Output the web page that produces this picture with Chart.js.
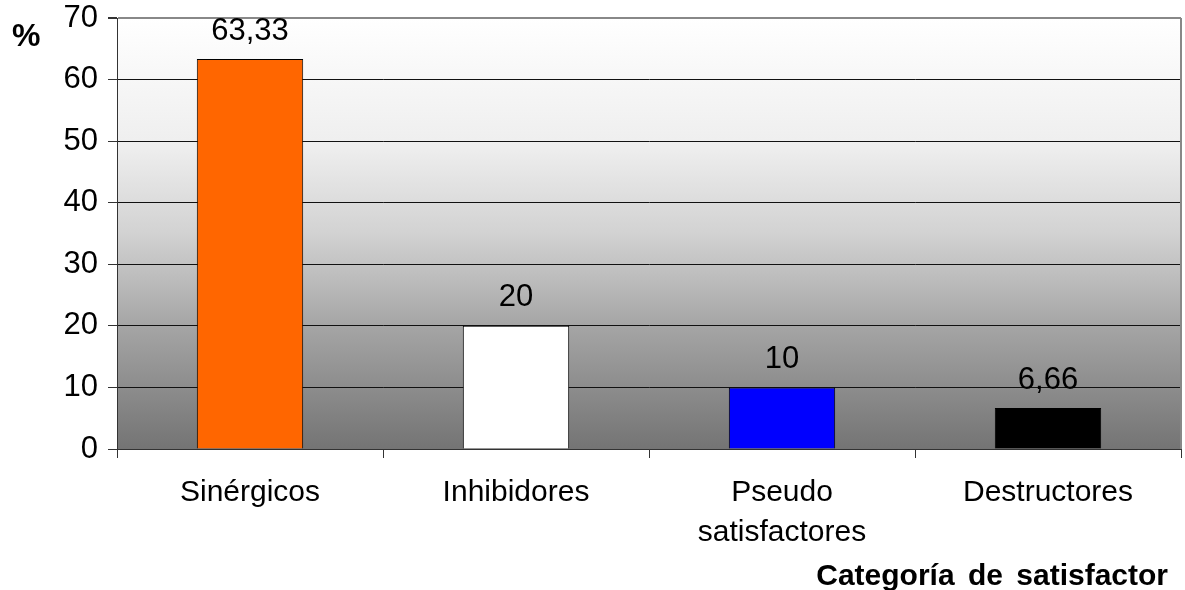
<!DOCTYPE html>
<html>
<head>
<meta charset="utf-8">
<title>Categoría de satisfactor</title>
<script src="https://cdn.jsdelivr.net/npm/chart.js@4"></script>
<style>
  html, body { margin: 0; padding: 0; background: #ffffff; }
  canvas { display: block; }
</style>
</head>
<body>
<canvas id="grafico" width="1185" height="590"></canvas>
<script>
const categorias = ['Sinérgicos', 'Inhibidores', ['Pseudo', 'satisfactores'], 'Destructores'];
const porcentajes = [63.33, 20, 10, 6.66];
const etiquetas = ['63,33', '20', '10', '6,66'];
const coloresBarras = ['#ff6600', '#ffffff', '#0000ff', '#000000'];
const ticksY = [0, 10, 20, 30, 40, 50, 60, 70];
const tituloX = 'Categoría de satisfactor';

const fuente = '"Liberation Sans", Arial, sans-serif';

// fondo degradado del área de trazado + textos extra
const fondoDegradado = {
    id: 'fondoDegradado',
    beforeDraw(chart) {
        const { ctx, chartArea } = chart;
        const g = ctx.createLinearGradient(0, chartArea.top, 0, chartArea.bottom);
        g.addColorStop(0, '#ffffff');
        g.addColorStop(0.3, '#eeeeee');
        g.addColorStop(0.5, '#d2d2d2');
        g.addColorStop(0.72, '#a4a4a4');
        g.addColorStop(1, '#747474');
        ctx.save();
        ctx.fillStyle = g;
        ctx.fillRect(chartArea.left, chartArea.top, chartArea.right - chartArea.left, chartArea.bottom - chartArea.top);
        ctx.restore();
    },
    afterDatasetsDraw(chart) {
        const { ctx, chartArea } = chart;
        ctx.save();
        // borde derecho gris
        ctx.strokeStyle = '#888888';
        ctx.lineWidth = 2;
        ctx.beginPath();
        ctx.moveTo(chartArea.right, chartArea.top);
        ctx.lineTo(chartArea.right, chartArea.bottom);
        ctx.stroke();

        // valores encima de las barras
        const meta = chart.getDatasetMeta(0);
        ctx.fillStyle = '#000000';
        ctx.font = '31px ' + fuente;
        ctx.textAlign = 'center';
        ctx.textBaseline = 'middle';
        meta.data.forEach((barra, i) => {
            ctx.fillText(etiquetas[i], barra.x, barra.y - 28);
        });

        // símbolo % del eje vertical
        ctx.font = 'bold 32px ' + fuente;
        ctx.textAlign = 'left';
        ctx.fillText('%', 12, 37);

        // título del eje horizontal
        ctx.font = 'bold 30px ' + fuente;
        ctx.textAlign = 'right';
        ctx.wordSpacing = '5px';
        ctx.fillText(tituloX, chartArea.right - 13, 577);
        ctx.restore();
    }
};

const ctx = document.getElementById('grafico').getContext('2d');

new Chart(ctx, {
    type: 'bar',
    data: {
        labels: categorias,
        datasets: [{
            data: porcentajes,
            backgroundColor: coloresBarras,
            borderColor: '#000000',
            borderWidth: 1,
            barPercentage: 0.4,
            categoryPercentage: 1
        }]
    },
    options: {
        responsive: false,
        animation: false,
        layout: {
            padding: { top: 18, right: 4, left: 0, bottom: 0 }
        },
        plugins: {
            legend: { display: false },
            tooltip: { enabled: false }
        },
        scales: {
            x: {
                afterFit: (scale) => {
                    scale.height = 141;
                    scale.paddingLeft = 0;
                    scale.paddingRight = 0;
                },
                grid: {
                    offset: true,
                    drawOnChartArea: false,
                    drawTicks: true,
                    tickLength: 9,
                    color: '#333333'
                },
                border: { color: '#333333', width: 1 },
                ticks: {
                    color: '#000000',
                    padding: 15,
                    maxRotation: 0,
                    font: { family: fuente, size: 30, lineHeight: 1.33 }
                }
            },
            y: {
                min: 0,
                max: 70,
                afterFit: (scale) => {
                    scale.width = 117;
                    scale.paddingTop = 0;
                    scale.paddingBottom = 0;
                },
                afterBuildTicks: (scale) => {
                    scale.ticks = ticksY.map(v => ({ value: v }));
                },
                grid: {
                    color: (c) => (c.tick && c.tick.value === 70 ? '#888888' : '#111111'),
                    lineWidth: (c) => (c.tick && c.tick.value === 70 ? 2 : 1),
                    tickLength: 9,
                    tickColor: '#333333'
                },
                border: { color: '#333333', width: 1 },
                ticks: {
                    color: '#000000',
                    padding: 10,
                    font: { family: fuente, size: 31 }
                }
            }
        }
    },
    plugins: [fondoDegradado]
});
</script>
</body>
</html>
